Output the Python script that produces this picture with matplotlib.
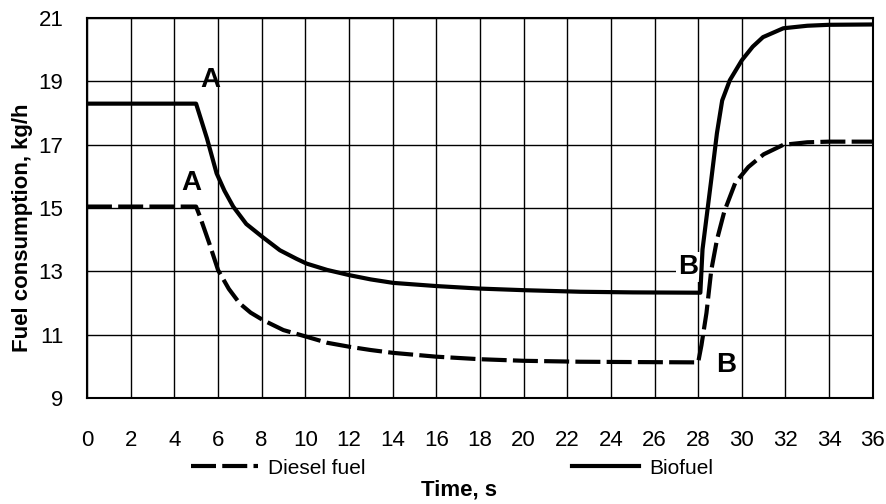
import matplotlib.pyplot as plt

plt.rcParams['font.family'] = ['Liberation Sans', 'DejaVu Sans']

# Biofuel curve (time, s / fuel consumption, kg/h)
bio_t = [0, 5.0, 5.5, 5.94, 6.3, 6.7, 7.3, 8.06, 8.84, 9.6, 10.06, 11, 12.05, 13,
         14.03, 16, 18, 20, 22.6, 25, 28.1, 28.2, 28.4, 28.6, 28.86, 29.1, 29.45,
         30.0, 30.5, 30.97, 31.9, 33, 34, 36]
bio_y = [18.3, 18.3, 17.2, 16.1, 15.55, 15.05, 14.5, 14.08, 13.67, 13.4, 13.25,
         13.05, 12.88, 12.75, 12.64, 12.54, 12.46, 12.41, 12.36, 12.34, 12.33, 13.7,
         14.8, 15.9, 17.37, 18.4, 19.04, 19.67, 20.1, 20.4, 20.68, 20.76, 20.79, 20.8]

# Diesel fuel curve
dsl_t = [0, 5.0, 5.18, 5.6, 6.01, 6.5, 7.0, 7.5, 8.08, 9.0, 10.06, 11, 12.05, 13,
         14.03, 16, 18, 20, 22.6, 25, 28.0, 28.15, 28.38, 28.6, 28.86, 29.2, 29.7,
         30.3, 31, 31.9, 33, 34, 36]
dsl_y = [15.05, 15.05, 14.73, 13.9, 13.04, 12.45, 11.99, 11.7, 11.46, 11.15, 10.94,
         10.75, 10.62, 10.52, 10.43, 10.31, 10.23, 10.18, 10.15, 10.14, 10.13, 10.67,
         11.69, 13.04, 14.0, 14.9, 15.8, 16.3, 16.7, 17.0, 17.08, 17.1, 17.1]

xticks = list(range(0, 37, 2))
yticks = list(range(9, 22, 2))

fig = plt.figure(figsize=(8.87, 5.04), dpi=100)
ax = fig.add_axes([0.098, 0.21, 0.886, 0.754])

ax.plot(dsl_t, dsl_y, color='black', lw=3, dashes=(6, 1.5), label='Diesel fuel',
        zorder=3)
ax.plot(bio_t, bio_y, color='black', lw=3, label='Biofuel', zorder=3)

# point labels
ax.text(5.63, 19.04, 'A', fontsize=20, fontweight='bold', ha='center', va='center')
ax.text(4.79, 15.78, 'A', fontsize=20, fontweight='bold', ha='center', va='center')
ax.text(27.55, 13.15, 'B', fontsize=20, fontweight='bold', ha='center', va='center',
        bbox=dict(facecolor='white', edgecolor='none', pad=1.5), zorder=2)
ax.text(29.3, 10.04, 'B', fontsize=20, fontweight='bold', ha='center', va='center')

ax.set_xlim(0, 36)
ax.set_ylim(9, 21)
ax.set_xticks(xticks)
ax.set_yticks(yticks)
ax.tick_params(length=0, labelsize=16)
ax.tick_params(axis='x', pad=23)
ax.tick_params(axis='y', pad=17)
ax.grid(color='black', lw=1.0)
ax.set_axisbelow(True)
for s in ax.spines.values():
    s.set_linewidth(1.5)

fig.text(0.025, 0.548, 'Fuel consumption, kg/h', fontsize=16, fontweight='bold',
         rotation=90, ha='center', va='center')
fig.text(0.518, 0.028, 'Time, s', fontsize=16, fontweight='bold',
         ha='center', va='center')

fig.legend(loc='center', bbox_to_anchor=(0.51, 0.071), ncol=2, frameon=False,
           fontsize=15, handlelength=3.2, columnspacing=9.9, handletextpad=0.5)

fig.savefig('out.png', dpi=100)
